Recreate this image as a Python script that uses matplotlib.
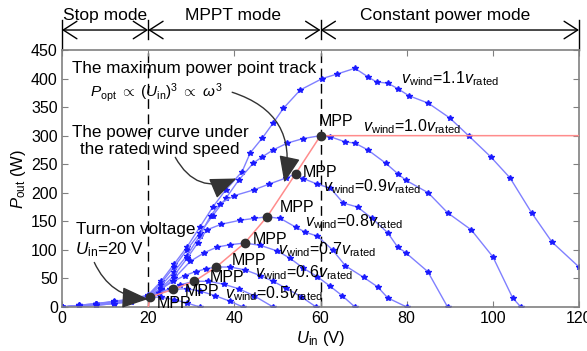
import matplotlib
matplotlib.use("Agg")
import matplotlib.pyplot as plt

plt.rcParams['font.family'] = ['Liberation Sans', 'DejaVu Sans']
plt.rcParams['mathtext.fontset'] = 'custom'
plt.rcParams['mathtext.rm'] = 'Liberation Sans'
plt.rcParams['mathtext.it'] = 'Liberation Sans:italic'

# power curves P_out(U_in) for each wind speed
u_11 = [0, 4, 8, 12, 16, 20, 23, 26, 29, 32, 35, 38, 41.8, 43.7, 46.5, 49, 51.4, 55.3, 60.4, 63.9, 68,
        71, 73, 75.6, 78, 80.5, 85, 90, 94.5, 99.5, 104, 109, 113.7, 120]
p_11 = [0, 3, 6, 10, 14, 21, 45, 75, 105, 140, 175, 205, 237, 270, 296, 322, 348, 380, 400, 408, 418,
        403, 394, 392, 382, 370, 357, 331, 299, 263, 226, 165, 114, 70]

u_10 = [0, 4, 8, 12, 16, 20, 23, 26, 29, 32, 35, 38, 41, 44.4, 46.5, 49, 52.3, 56, 60, 62.3, 65.8, 68,
        71, 75.1, 78, 79.8, 85, 89.5, 95, 100, 104.6, 106.5]
p_10 = [0, 3, 6, 9, 13, 20, 42, 70, 100, 130, 160, 190, 222, 252, 263, 275, 287, 295, 300, 298, 289, 287,
        275, 252, 233, 222, 200, 165, 135, 88, 16, 0]

u_09 = [0, 4, 8, 12, 16, 20, 23, 26, 29, 32, 34.5, 36.7, 40, 44.5, 48, 52, 54.2, 56, 59.3, 62.3, 65.3,
        68.6, 72, 75.6, 77.9, 79.8, 84.9, 89.5]
p_09 = [0, 2, 5, 9, 12, 19, 38, 62, 90, 125, 160, 181, 195, 205, 215, 226, 233, 225, 215, 208, 182,
        175, 155, 130, 105, 95, 62, 0]

u_08 = [0, 4, 8, 12, 16, 20, 23, 26, 29, 31.5, 33.6, 37, 41.4, 44.5, 47.6, 50.7, 54.2, 56.5, 59.3, 62.8,
        65.8, 70, 73.3, 75.6, 80]
p_08 = [0, 2, 5, 8, 12, 18, 33, 55, 85, 112, 135, 145, 152, 155, 158, 155, 140, 131, 124, 100,
        72, 52, 35, 16, 0]

u_07 = [0, 4, 8, 12, 16, 20, 23, 26, 29.8, 33, 36, 39, 42.4, 46, 50, 53, 56, 59.3, 62.3, 65, 68]
p_07 = [0, 2, 4, 8, 11, 18, 30, 50, 80, 95, 105, 109, 112, 108, 98, 85, 68, 53, 36, 20, 0]

u_06 = [0, 4, 8, 12, 16, 20, 23, 25.8, 28.5, 31, 33.5, 35.8, 39, 42.5, 46, 49, 52, 55.5, 59]
p_06 = [0, 2, 4, 7, 11, 17, 32, 45, 55, 62, 67, 70, 70, 65, 55, 45, 33, 18, 0]

u_05 = [0, 4, 8, 12, 16, 20, 22.5, 25, 27.5, 30.7, 34, 37.5, 41, 44.5, 49]
p_05 = [0, 2, 4, 7, 10, 17, 25, 32, 39, 45, 45, 40, 32, 20, 0]

u_043 = [0, 4, 8, 12, 16, 20, 22.5, 25.8, 29, 32, 35.5, 39, 42]
p_043 = [0, 1, 3, 6, 10, 17, 24, 31, 32, 28, 20, 10, 0]

u_034 = [0, 4, 8, 12, 16, 20.5, 23, 26, 29, 32]
p_034 = [0, 1, 3, 6, 9, 17.5, 17, 13, 7, 0]

curves = [(u_11, p_11), (u_10, p_10), (u_09, p_09), (u_08, p_08), (u_07, p_07),
          (u_06, p_06), (u_05, p_05), (u_043, p_043), (u_034, p_034)]

# maximum power points and the tracking / constant power line
mpp_u = [20.5, 25.8, 30.7, 35.8, 42.4, 47.6, 54.2, 60]
mpp_p = [17.5, 31, 45, 70, 112, 158, 233, 300]
track_u = [20] + mpp_u + [120]
track_p = [0] + mpp_p + [300]

# label positions (U, P) for the "MPP" tags
mpp_lab_u = [22.1, 28.6, 34.4, 39.3, 44.2, 50.5, 55.8, 59.5]
mpp_lab_p = [6, 27, 51, 81, 118, 175, 235, 325]

wind_names = ['0.5', '0.6', '0.7', '0.8', '0.9', '1.0', '1.1']
wind_lab_u = [37.9, 44.9, 50.2, 56.5, 60.5, 69.8, 78.6]
wind_lab_p = [23, 60, 101, 149, 210, 315, 399]

fig = plt.figure(figsize=(5.87, 3.51), dpi=100)
ax = fig.add_axes([62 / 587, 44 / 351, 517 / 587, 257 / 351])

for u, p in curves:
    ax.plot(u, p, color='#8080ff', lw=1, marker='*', ms=4, mfc='#1a1aff', mec='#1a1aff', zorder=2)

ax.plot(track_u, track_p, color='#ff8c8c', lw=1.1, zorder=3)
ax.plot(mpp_u, mpp_p, 'o', color='#303030', ms=6, zorder=4)

ax.set_xlim(0, 120)
ax.set_ylim(0, 450)
ax.set_xticks(range(0, 121, 20))
ax.set_yticks(range(0, 451, 50))
ax.tick_params(direction='in', length=4, color='#808080', labelsize=11.5, top=True, right=True,
               labeltop=False, labelright=False, pad=3)
for s in ax.spines.values():
    s.set_color('#808080')
    s.set_linewidth(1.2)

ax.set_xlabel(r'$U_{\mathrm{in}}$ (V)', fontsize=12, labelpad=2)
ax.set_ylabel(r'$P_{\mathrm{out}}$ (W)', fontsize=12, labelpad=2)

# mode boundaries
for x in (20, 60):
    ax.plot([x, x], [0, 450], color='black', lw=1, ls=(0, (7, 4)), zorder=1)
for x in (0, 20, 60, 120):
    ax.plot([x, x], [450 if x in (0, 120) else 470, 502], color='black', lw=1, clip_on=False)

y_arrow = 485
for a, b in [(0, 20), (20, 60), (60, 120)]:
    ax.annotate('', xy=(b, y_arrow), xytext=(a, y_arrow), annotation_clip=False,
                arrowprops=dict(arrowstyle='<->,head_length=0.7,head_width=0.45', color='black',
                                lw=1, shrinkA=0, shrinkB=0, mutation_scale=14))
ax.text(10, 510, 'Stop mode', ha='center', va='center', fontsize=12.5, clip_on=False)
ax.text(39.8, 510, 'MPPT mode', ha='center', va='center', fontsize=12.5, clip_on=False)
ax.text(89, 510, 'Constant power mode', ha='center', va='center', fontsize=12.5, clip_on=False)

# descriptive text and arrows
head = '-|>,head_length=0.75,head_width=0.3'
ax.text(2.3, 418, 'The maximum power point track', va='center', fontsize=12.3)
ax.text(6.5, 375, r'$P_{\mathrm{opt}}\ \propto\ (U_{\mathrm{in}})^3\ \propto\ \omega^3$', va='center',
        fontsize=11)
ax.annotate('', xy=(51.6, 218), xytext=(39.5, 376),
            arrowprops=dict(arrowstyle=head, color='#333333', lw=1,
                            connectionstyle='arc3,rad=-0.45', shrinkA=0, shrinkB=0, mutation_scale=22))

ax.text(22.8, 305, 'The power curve under', ha='center', va='center', fontsize=12.3)
ax.text(22.8, 276, 'the rated wind speed', ha='center', va='center', fontsize=12.3)
ax.annotate('', xy=(40.5, 225), xytext=(26.3, 262),
            arrowprops=dict(arrowstyle=head, color='#333333', lw=1,
                            connectionstyle='arc3,rad=0.45', shrinkA=0, shrinkB=0, mutation_scale=22))

ax.text(17.2, 136, 'Turn-on voltage', ha='center', va='center', fontsize=12.3)
ax.text(3, 100, r'$U_{\mathrm{in}}$=20 V', va='center', fontsize=12.3)
ax.annotate('', xy=(20, 14), xytext=(7.5, 78),
            arrowprops=dict(arrowstyle=head, color='#333333', lw=1,
                            connectionstyle='arc3,rad=0.3', shrinkA=0, shrinkB=0, mutation_scale=22))

for x, y in zip(mpp_lab_u, mpp_lab_p):
    ax.text(x, y, 'MPP', va='center', fontsize=11.5, zorder=5)
for name, x, y in zip(wind_names, wind_lab_u, wind_lab_p):
    ax.text(x, y, r'$v_{\mathrm{wind}}$=' + name + r'$v_{\mathrm{rated}}$', va='center', fontsize=11.5,
            zorder=5)

fig.savefig('out.png', dpi=100)
